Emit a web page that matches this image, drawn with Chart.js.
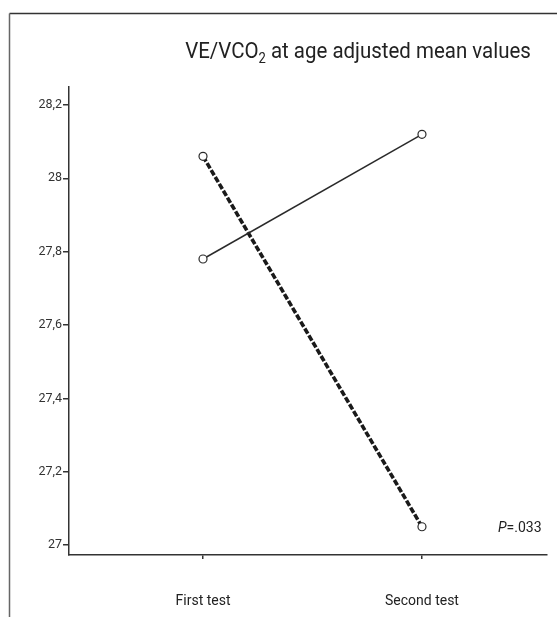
<!DOCTYPE html>
<html>
<head>
<meta charset="utf-8">
<script src="https://cdn.jsdelivr.net/npm/chart.js@4.4.0/dist/chart.umd.min.js"></script>
<style>
html,body{margin:0;padding:0;background:#fff;}
#wrap{position:relative;width:557px;height:617px;}
</style>
</head>
<body>
<div id="wrap"><canvas id="c"></canvas></div>
<script>
const FONT = "'Liberation Sans Narrow','Roboto','Liberation Sans',sans-serif";
const categories = ['First test', 'Second test'];
const categoryX = [1, 2];
const seriesSolid = [27.78, 28.12];
const seriesDashed = [28.06, 27.05];
const yTickValues = [27, 27.2, 27.4, 27.6, 27.8, 28, 28.2];
const yTickLabels = ['27', '27,2', '27,4', '27,6', '27,8', '28', '28,2'];
const titleMain = 'VE/VCO';
const titleSub = '2';
const titleRest = ' at age adjusted mean values';
const pItalic = 'P';
const pRest = '=.033';

const framePlugin = {
  id: 'frame',
  afterDraw(chart) {
    const ctx = chart.ctx;
    ctx.save();
    ctx.lineWidth = 1.5;
    ctx.strokeStyle = '#333';
    ctx.beginPath();
    ctx.moveTo(557, 13.5);
    ctx.lineTo(9.5, 13.5);
    ctx.stroke();
    ctx.strokeStyle = '#666';
    ctx.beginPath();
    ctx.moveTo(9.5, 13.5);
    ctx.lineTo(9.5, 617);
    ctx.stroke();
    // title (slightly condensed)
    ctx.fillStyle = '#222';
    ctx.textBaseline = 'alphabetic';
    ctx.textAlign = 'left';
    const sx = 0.93;
    ctx.font = '22px ' + FONT;
    const w1 = ctx.measureText(titleMain).width;
    ctx.font = '14px ' + FONT;
    const w2 = ctx.measureText(titleSub).width;
    ctx.font = '22px ' + FONT;
    const w3 = ctx.measureText(titleRest).width;
    const total = (w1 + w2 + w3) * sx;
    const x0 = 358 - total / 2;
    const base = 58;
    ctx.save();
    ctx.translate(x0, 0);
    ctx.scale(sx, 1);
    let x = 0;
    ctx.fillText(titleMain, x, base);
    x += w1;
    ctx.font = '14px ' + FONT;
    ctx.fillText(titleSub, x, base + 5);
    x += w2;
    ctx.font = '22px ' + FONT;
    ctx.fillText(titleRest, x, base);
    ctx.restore();
    // P value
    ctx.font = 'italic 14px ' + FONT;
    const pw = ctx.measureText(pItalic).width;
    ctx.fillText(pItalic, 498, 532);
    ctx.font = '14px ' + FONT;
    ctx.fillText(pRest, 498 + pw, 532);
    ctx.restore();
  }
};

new Chart(document.getElementById('c'), {
  type: 'line',
  data: {
    datasets: [
      {
        label: 'solid',
        data: categoryX.map((x, i) => ({x: x, y: seriesSolid[i]})),
        borderColor: '#2a2a2a',
        borderWidth: 1.5,
        pointRadius: 4,
        pointBorderWidth: 1.2,
        pointBorderColor: '#2a2a2a',
        pointBackgroundColor: '#fff',
        fill: false
      },
      {
        label: 'dashed',
        data: categoryX.map((x, i) => ({x: x, y: seriesDashed[i]})),
        borderColor: '#1a1a1a',
        borderWidth: 3.6,
        borderDash: [6, 2],
        pointRadius: 4,
        pointBorderWidth: 1.2,
        pointBorderColor: '#2a2a2a',
        pointBackgroundColor: '#fff',
        fill: false
      }
    ]
  },
  options: {
    responsive: true,
    maintainAspectRatio: false,
    animation: false,
    layout: {padding: {top: 87, right: 10, bottom: 0, left: 0}},
    plugins: {legend: {display: false}, tooltip: {enabled: false}, title: {display: false}},
    scales: {
      x: {
        type: 'linear',
        min: 0.388,
        max: 2.571,
        afterBuildTicks(scale) { scale.ticks = categoryX.map(v => ({value: v})); },
        afterFit(scale) { scale.height = 62; },
        ticks: {
          callback(v) { const i = categoryX.indexOf(v); return i >= 0 ? categories[i] : ''; },
          font: {family: FONT, size: 14},
          color: '#222',
          padding: 34,
          autoSkip: false,
          maxRotation: 0
        },
        grid: {drawOnChartArea: false, drawTicks: true, tickLength: 4, color: '#333', lineWidth: 1.5},
        border: {display: true, color: '#333', width: 1.5}
      },
      y: {
        type: 'linear',
        min: 26.973,
        max: 28.249,
        afterBuildTicks(scale) { scale.ticks = yTickValues.map(v => ({value: v})); },
        afterFit(scale) { scale.width = 69; },
        ticks: {
          callback(v) { const i = yTickValues.findIndex(t => Math.abs(t - v) < 1e-6); return i >= 0 ? yTickLabels[i] : ''; },
          font: {family: FONT, size: 12.5},
          color: '#333',
          padding: 1,
          autoSkip: false
        },
        grid: {drawOnChartArea: false, drawTicks: true, tickLength: 6, color: '#333', lineWidth: 1.5},
        border: {display: true, color: '#333', width: 1.5}
      }
    }
  },
  plugins: [framePlugin]
});
</script>
</body>
</html>
